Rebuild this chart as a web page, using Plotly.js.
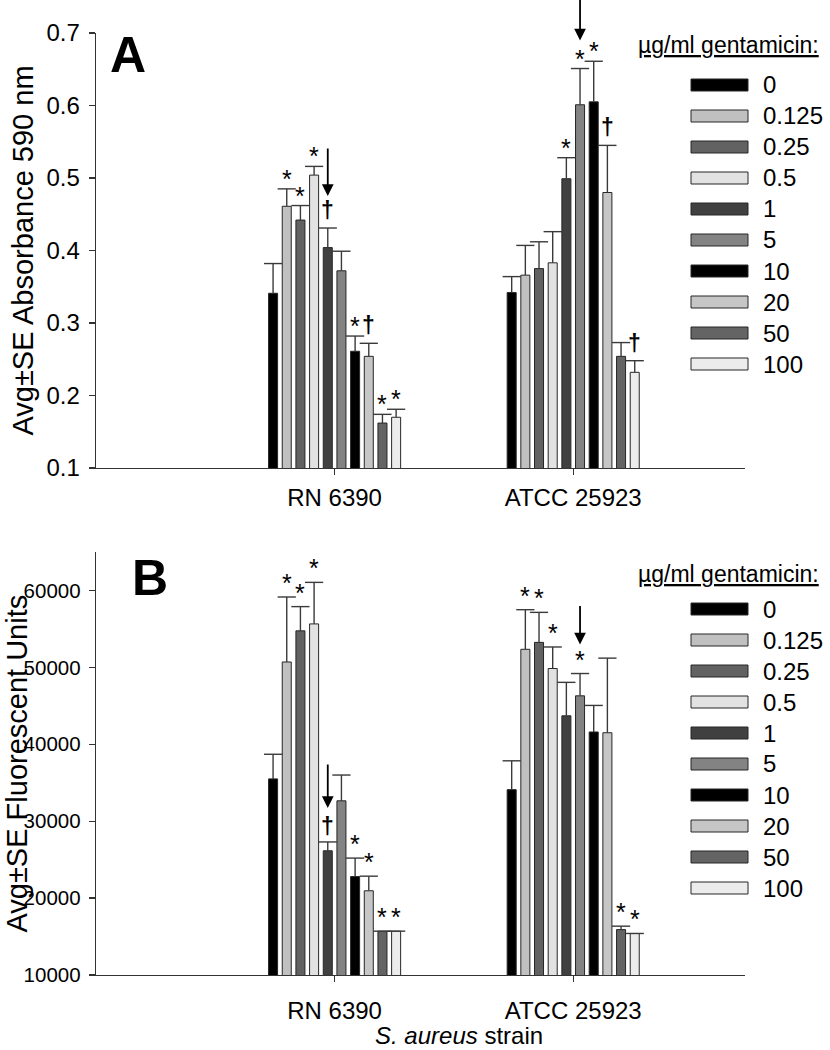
<!DOCTYPE html>
<html><head><meta charset="utf-8">
<script src="https://cdn.plot.ly/plotly-3.0.1.min.js"></script>
<style>html,body{margin:0;padding:0;background:#fff}#chart{width:830px;height:1050px}</style>
</head><body><div id="chart"></div>
<script>
// ---------- data ----------
const strains = ['RN 6390', 'ATCC 25923'];
const doses = ['0', '0.125', '0.25', '0.5', '1', '5', '10', '20', '50', '100'];
const absRN     = [0.341, 0.461, 0.442, 0.504, 0.404, 0.372, 0.261, 0.254, 0.162, 0.170];
const absRNse   = [0.041, 0.024, 0.020, 0.012, 0.027, 0.027, 0.021, 0.018, 0.012, 0.011];
const absATCC   = [0.342, 0.366, 0.375, 0.383, 0.499, 0.601, 0.605, 0.480, 0.254, 0.232];
const absATCCse = [0.022, 0.041, 0.037, 0.043, 0.029, 0.050, 0.056, 0.065, 0.019, 0.016];
const fluRN     = [35500, 50700, 54750, 55650, 26150, 32650, 22800, 20950, 15700, 15700];
const fluRNse   = [3200, 8450, 3150, 5400, 1150, 3350, 2400, 1900, 0, 0];
const fluATCC   = [34100, 52350, 53250, 49850, 43700, 46300, 41600, 41500, 15900, 15400];
const fluATCCse = [3750, 5150, 3900, 2800, 4350, 2900, 3450, 9700, 450, 0];
const sigAbsRN   = ['', '*', '*', '*', '†', '', '*', '†', '*', '*'];
const sigAbsATCC = ['', '', '', '', '*', '*', '*', '†', '', '†'];
const sigFluRN   = ['', '*', '*', '*', '†', '', '*', '*', '*', '*'];
const sigFluATCC = ['', '*', '*', '*', '', '*', '', '', '*', '*'];
const arrowAbs = [4, 5];   // dose index marked by an arrow, per strain
const arrowFlu = [4, 5];
const absTicks = [0.1, 0.2, 0.3, 0.4, 0.5, 0.6, 0.7];
const fluTicks = [10000, 20000, 30000, 40000, 50000, 60000];

// ---------- styles ----------
const fillColors = ['#000000', '#c0c0c0', '#626262', '#e2e2e2', '#404040',
                    '#838383', '#000000', '#c6c6c6', '#646464', '#ececec'];
const FONT = 'Liberation Sans, Arial, sans-serif';
const W = 830, H = 1050, L = 96, R = 745, T = 33, B = 975;
const PW = R - L, PH = B - T;
const px = v => (v - L) / PW;
const py = v => (B - v) / PH;
const GROUP = 0.573, SLOT = GROUP / 10, BARW = SLOT * 0.66;
const xpos = (s, i) => s - GROUP / 2 + (i + 0.5) * SLOT;
const ERRC = '#3a3a3a';

const panels = [
  {vals: [absRN, absATCC], se: [absRNse, absATCCse], sig: [sigAbsRN, sigAbsATCC], arrows: arrowAbs,
   xa: 'x', ya: 'y', starShift: 10, dagShift: 18, arrowGap: [32, 28], arrowLen: [49, 42],
   letter: 'A', letterPos: [128, 55], title: 'Avg±SE Absorbance 590 nm', titleX: 22,
   legTitleY: 45, legRow0: 85},
  {vals: [fluRN, fluATCC], se: [fluRNse, fluATCCse], sig: [sigFluRN, sigFluATCC], arrows: arrowFlu,
   xa: 'x2', ya: 'y2', starShift: 14, dagShift: 16, arrowGap: [34, 29], arrowLen: [45, 40],
   letter: 'B', letterPos: [150, 578], title: 'Avg±SE Fluorescent Units', titleX: 16,
   legTitleY: 574, legRow0: 609}
];

const traces = [];
const annotations = [];
const shapes = [];

panels.forEach((p, pi) => {
  doses.forEach((d, i) => {
    traces.push({
      type: 'bar', xaxis: p.xa, yaxis: p.ya, name: d, showlegend: false,
      x: [xpos(0, i), xpos(1, i)], y: [p.vals[0][i], p.vals[1][i]], width: BARW,
      marker: {color: fillColors[i], line: {color: '#262626', width: 1}},
      error_y: {type: 'data', symmetric: false, array: [p.se[0][i], p.se[1][i]], arrayminus: [0, 0],
                width: 0, thickness: 1.4, color: ERRC}
    });
  });
  // error bar caps
  const cx = [], cy = [];
  for (let s = 0; s < 2; s++) doses.forEach((d, i) => { cx.push(xpos(s, i)); cy.push(p.vals[s][i] + p.se[s][i]); });
  traces.push({type: 'scatter', mode: 'markers', xaxis: p.xa, yaxis: p.ya, x: cx, y: cy, showlegend: false,
    hoverinfo: 'skip', marker: {symbol: 'line-ew', size: 13, color: ERRC, line: {color: ERRC, width: 1.4}}});
  // significance marks and arrows
  for (let s = 0; s < 2; s++) {
    doses.forEach((d, i) => {
      const m = p.sig[s][i];
      if (!m) return;
      const isStar = m === '*';
      annotations.push({xref: p.xa, yref: p.ya, x: xpos(s, i), y: p.vals[s][i] + p.se[s][i],
        text: m, showarrow: false, yanchor: 'middle', xanchor: 'center',
        yshift: isStar ? p.starShift : p.dagShift,
        font: {family: FONT, size: isStar ? 25 : 23, color: '#000', weight: isStar ? 'normal' : 'bold'}});
    });
    const ai = p.arrows[s];
    annotations.push({xref: p.xa, yref: p.ya, x: xpos(s, ai), y: p.vals[s][ai] + p.se[s][ai],
      yshift: p.arrowGap[s], text: '', showarrow: true, ax: 0, ay: -p.arrowLen[s],
      arrowhead: 2, arrowsize: 1.3, arrowwidth: 1.8, arrowcolor: '#000'});
  }
  // panel letter
  annotations.push({xref: 'paper', yref: 'paper', x: px(p.letterPos[0]), y: py(p.letterPos[1]),
    text: '<b>' + p.letter + '</b>', showarrow: false, xanchor: 'center', yanchor: 'middle',
    font: {family: FONT, size: 50, color: '#000'}});
  // y-axis title
  const dom = pi === 0 ? [468, 33] : [975, 552];
  annotations.push({xref: 'paper', yref: 'paper', x: px(p.titleX), y: py((dom[0] + dom[1]) / 2),
    text: p.title, textangle: -90, showarrow: false, xanchor: 'center', yanchor: 'middle',
    font: {family: FONT, size: 29, color: '#000'}});
  // legend
  annotations.push({xref: 'paper', yref: 'paper', x: px(728), y: py(p.legTitleY),
    text: '<u>µg/ml gentamicin:</u>', showarrow: false, xanchor: 'center', yanchor: 'middle',
    font: {family: FONT, size: 23, color: '#000'}});
  doses.forEach((d, i) => {
    const ry = p.legRow0 + i * 31;
    shapes.push({type: 'rect', xref: 'paper', yref: 'paper', x0: px(691), x1: px(748),
      y0: py(ry + 6), y1: py(ry - 6), fillcolor: fillColors[i], line: {color: '#262626', width: 1}});
    annotations.push({xref: 'paper', yref: 'paper', x: px(761), y: py(ry), text: d, showarrow: false,
      xanchor: 'left', yanchor: 'middle', font: {family: FONT, size: 24, color: '#000'}});
  });
});

annotations.push({xref: 'paper', yref: 'paper', x: px(459), y: py(1035),
  text: '<i>S. aureus</i> strain', showarrow: false, xanchor: 'center', yanchor: 'middle',
  font: {family: FONT, size: 24, color: '#000'}});

const xCommon = {range: [-1, 1.72], tickvals: [0, 1], ticktext: strains, ticks: 'outside', ticklen: 6,
  tickcolor: '#333', tickwidth: 1.2, showline: true, linecolor: '#333', linewidth: 1.3,
  showgrid: false, zeroline: false, tickfont: {family: FONT, size: 24, color: '#000'}};
const yCommon = {ticks: 'outside', ticklen: 6, tickcolor: '#333', tickwidth: 1.2, showline: true,
  linecolor: '#333', linewidth: 1.3, showgrid: false, zeroline: false};

const layout = {
  width: W, height: H, margin: {l: L, r: W - R, t: T, b: H - B},
  paper_bgcolor: '#fff', plot_bgcolor: '#fff', barmode: 'overlay', showlegend: false,
  font: {family: FONT, color: '#000'},
  xaxis: Object.assign({}, xCommon, {anchor: 'y', domain: [0, 1], ticklabelstandoff: 2}),
  xaxis2: Object.assign({}, xCommon, {anchor: 'x2'.replace('x', 'y'), domain: [0, 1], ticklabelstandoff: 8}),
  yaxis: Object.assign({}, yCommon, {anchor: 'x', domain: [py(468), 1], range: [0.1, 0.7],
    tickvals: absTicks, tickformat: '.1f', tickfont: {family: FONT, size: 24, color: '#000'},
    ticklabelstandoff: 4}),
  yaxis2: Object.assign({}, yCommon, {anchor: 'x2', domain: [0, py(552)], range: [10000, 65000],
    tickvals: fluTicks, tickformat: 'd', tickfont: {family: FONT, size: 20.5, color: '#000'},
    ticklabelstandoff: 4}),
  annotations: annotations, shapes: shapes
};

Plotly.newPlot('chart', traces, layout, {displayModeBar: false, staticPlot: true});
</script>
</body></html>
